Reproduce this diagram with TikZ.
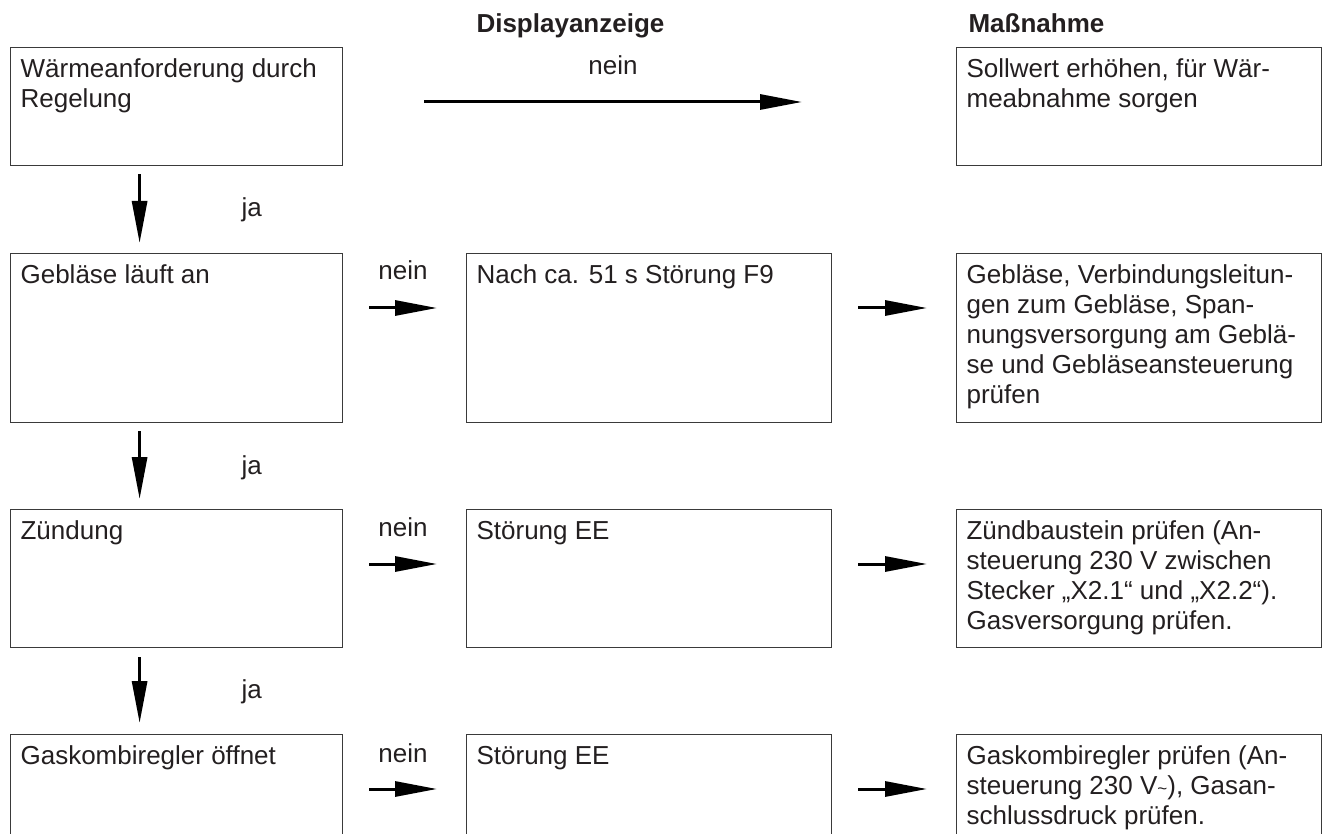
\documentclass[tikz,border=0pt]{standalone}
\usepackage{fontspec}
\setmainfont{Liberation Sans}
\usetikzlibrary{arrows.meta}
\definecolor{inkblack}{HTML}{231F20}
\definecolor{framegray}{HTML}{3A3A3A}
% text block fixed at the top of a box: width, height, text
\newcommand{\boxtxt}[3]{\parbox[t][#2][t]{#1}{\raggedright\strut #3}}

\begin{document}
\begin{tikzpicture}[x=1pt,y=-1pt,
        every node/.style={text=inkblack,font=\fontsize{26}{30}\selectfont},
        box/.style={rectangle,draw=framegray,line width=1.2pt,anchor=north west,
                    inner xsep=10pt,inner ysep=9pt},
        head/.style={anchor=base west,font=\fontsize{26}{30}\selectfont\bfseries},
        arr/.style={line width=3pt,-{Triangle[length=42pt,width=15pt]}}]
      \useasboundingbox (0,0) rectangle (1328,834);
      \clip (0,0) rectangle (1328,834);
      \node[head] (hdisp) at (473,33) {Displayanzeige};
      \node[head] (hmeas) at (965,33) {Maßnahme};
      % left column
      \node[box] (ask) at (10,47)  {\boxtxt{312pt}{100pt}{Wärmeanforderung durch\\Regelung}};
      \node[box] (fan) at (10,253) {\boxtxt{312pt}{151pt}{Gebläse läuft an}};
      \node[box] (ign) at (10,509) {\boxtxt{312pt}{120pt}{Zündung}};
      \node[box] (gas) at (10,734) {\boxtxt{312pt}{92pt}{Gaskombiregler öffnet}};
      % display column
      \node[box] (dfan) at (466,253) {\boxtxt{345pt}{151pt}{Nach ca. 51 s Störung F9}};
      \node[box] (dign) at (466,509) {\boxtxt{345pt}{120pt}{Störung EE}};
      \node[box] (dgas) at (466,734) {\boxtxt{345pt}{92pt}{Störung EE}};
      % measure column
      \node[box] (mask) at (956,47)  {\boxtxt{345pt}{100pt}{Sollwert erhöhen, für Wär-\\meabnahme sorgen}};
      \node[box] (mfan) at (956,253) {\boxtxt{345pt}{151pt}{Gebläse, Verbindungsleitun-\\gen zum Gebläse, Span-\\nungsversorgung am Geblä-\\se und Gebläseansteuerung\\prüfen}};
      \node[box] (mign) at (956,509) {\boxtxt{345pt}{120pt}{Zündbaustein prüfen (An-\\steuerung 230 V zwischen\\Stecker „X2.1“ und „X2.2“).\\Gasversorgung prüfen.}};
      \node[box] (mgas) at (956,734) {\boxtxt{345pt}{92pt}{Gaskombiregler prüfen (An-\\steuerung 230 V{\fontsize{17}{17}\selectfont\textasciitilde}), Gasan-\\schlussdruck prüfen.}};
      % labels
      \node[anchor=base] (nask) at (613,75)  {nein};
      \node[anchor=base] (nfan) at (403,280) {nein};
      \node[anchor=base] (nign) at (403,536) {nein};
      \node[anchor=base] (ngas) at (403,762) {nein};
      \node[anchor=base west] (jfan) at (238,217) {ja};
      \node[anchor=base west] (jign) at (238,474) {ja};
      \node[anchor=base west] (jgas) at (238,698) {ja};
      % yes path
      \draw[arr,shorten <=8pt,shorten >=10pt] ([xshift=-37pt]ask.south) -- ([xshift=-37pt]fan.north);
      \draw[arr,shorten <=8pt,shorten >=10pt] ([xshift=-37pt]fan.south) -- ([xshift=-37pt]ign.north);
      \draw[arr,shorten <=9pt,shorten >=11pt] ([xshift=-37pt]ign.south) -- ([xshift=-37pt]gas.north);
      % no path
      \draw[arr,shorten <=81pt,shorten >=154pt] ([yshift=-55pt]ask.north east) -- ([yshift=-55pt]mask.north west);
      \draw[arr,shorten <=26pt,shorten >=29pt] ([yshift=-55pt]fan.north east) -- ([yshift=-55pt]dfan.north west);
      \draw[arr,shorten <=26pt,shorten >=29pt] ([yshift=-55pt]ign.north east) -- ([yshift=-55pt]dign.north west);
      \draw[arr,shorten <=26pt,shorten >=29pt] ([yshift=-55pt]gas.north east) -- ([yshift=-55pt]dgas.north west);
      \draw[arr,shorten <=26pt,shorten >=29pt] ([yshift=-55pt]dfan.north east) -- ([yshift=-55pt]mfan.north west);
      \draw[arr,shorten <=26pt,shorten >=29pt] ([yshift=-55pt]dign.north east) -- ([yshift=-55pt]mign.north west);
      \draw[arr,shorten <=26pt,shorten >=29pt] ([yshift=-55pt]dgas.north east) -- ([yshift=-55pt]mgas.north west);
    \end{tikzpicture}
\end{document}
